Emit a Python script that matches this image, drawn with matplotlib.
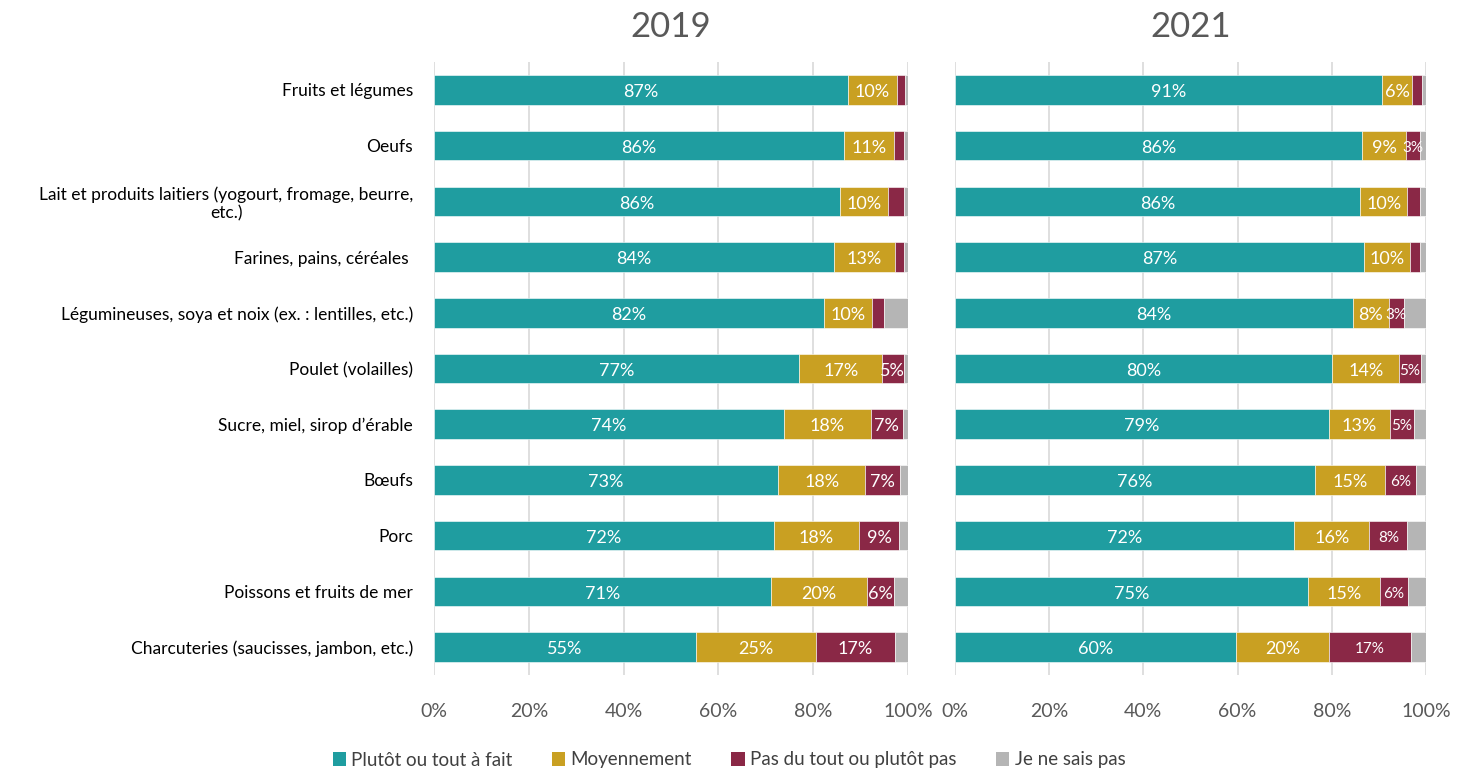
import numpy as np
import matplotlib.pyplot as plt
from matplotlib.patches import Patch

plt.rcParams['font.family'] = ['Lato', 'DejaVu Sans']

categories = [
    "Fruits et légumes",
    "Oeufs",
    "Lait et produits laitiers (yogourt, fromage, beurre,\netc.)",
    "Farines, pains, céréales ",
    "Légumineuses, soya et noix (ex. : lentilles, etc.)",
    "Poulet (volailles)",
    "Sucre, miel, sirop d’érable",
    "Bœufs",
    "Porc",
    "Poissons et fruits de mer",
    "Charcuteries (saucisses, jambon, etc.)",
]

series_names = ["Plutôt ou tout à fait", "Moyennement",
                "Pas du tout ou plutôt pas", "Je ne sais pas"]

# 2019
y19_oui = [87.3, 86.4, 85.6, 84.4, 82.3, 77.1, 73.8, 72.6, 71.7, 71.1, 55.3]
y19_moy = [10.4, 10.6, 10.1, 12.9, 10.1, 17.4, 18.3, 18.4, 17.9, 20.2, 25.3]
y19_non = [1.6, 2.2, 3.4, 1.9, 2.5, 4.6, 6.9, 7.3, 8.6, 5.7, 16.7]
y19_nsp = [0.7, 0.8, 0.9, 0.8, 5.1, 0.9, 1.0, 1.7, 1.8, 3.0, 2.7]

# 2021
y21_oui = [90.7, 86.4, 86.0, 86.9, 84.4, 80.1, 79.4, 76.4, 72.0, 74.9, 59.7]
y21_moy = [6.3, 9.4, 10.0, 9.8, 7.7, 14.2, 12.9, 15.0, 16.0, 15.4, 19.8]
y21_non = [2.2, 2.9, 2.7, 2.0, 3.2, 4.6, 5.1, 6.4, 8.0, 5.8, 17.3]
y21_nsp = [0.8, 1.3, 1.3, 1.3, 4.7, 1.1, 2.6, 2.2, 4.0, 3.9, 3.2]

COLORS = ["#1F9DA0", "#C9A022", "#8A2846", "#B5B5B5"]
GRID = "#D9D9D9"
TXT = "#595959"

fig = plt.figure(figsize=(14.58, 7.73), dpi=100)
W, H = 1458, 773
ax1 = fig.add_axes([434 / W, 1 - 675 / H, (908 - 434) / W, (675 - 62) / H])
ax2 = fig.add_axes([955 / W, 1 - 675 / H, (1426 - 955) / W, (675 - 62) / H])

# (axes, title, data, red label font size, min value to get a label)
panels = [
    (ax1, "2019", [y19_oui, y19_moy, y19_non, y19_nsp], 13, 4.0),
    (ax2, "2021", [y21_oui, y21_moy, y21_non, y21_nsp], 11, 2.8),
]

y = np.arange(len(categories))
for ax, title, data, red_fs, min_lab in panels:
    left = np.zeros(len(categories))
    for k, vals in enumerate(data):
        vals = np.array(vals)
        ax.barh(y, vals, left=left, height=0.53, color=COLORS[k],
                edgecolor="white", linewidth=0.4, zorder=3)
        if k < 3:
            for i, v in enumerate(vals):
                if v >= min_lab:
                    ax.text(left[i] + v / 2, y[i] + 0.04, f"{round(v)}%",
                            ha="center", va="center", color="white",
                            fontsize=red_fs if k == 2 else 13, zorder=4)
        left += vals
    ax.set_xlim(0, 100)
    ax.set_ylim(10.5, -0.5)
    ax.set_xticks(np.arange(0, 101, 20))
    ax.set_xticklabels([f"{t}%" for t in range(0, 101, 20)])
    ax.tick_params(axis="x", length=0, labelsize=14, labelcolor=TXT, pad=20)
    ax.grid(True, axis="x", color=GRID, linewidth=1.2, zorder=0)
    for s in ax.spines.values():
        s.set_visible(False)
    ax.set_title(title, fontsize=25, color=TXT, pad=18)

ax1.set_yticks(y)
ax1.set_yticklabels(categories, fontsize=12.5, multialignment="center")
ax1.tick_params(axis="y", length=0, pad=15)
ax2.set_yticks([])

handles = [Patch(facecolor=c, label=n) for c, n in zip(COLORS, series_names)]
fig.legend(handles=handles, loc="center", bbox_to_anchor=(0.5, 1 - 760 / H),
           ncol=4, frameon=False, fontsize=13.5, labelcolor="#404040",
           handlelength=0.7, handleheight=0.7, handletextpad=0.3,
           columnspacing=2.1)

fig.savefig("out.png", dpi=100)
